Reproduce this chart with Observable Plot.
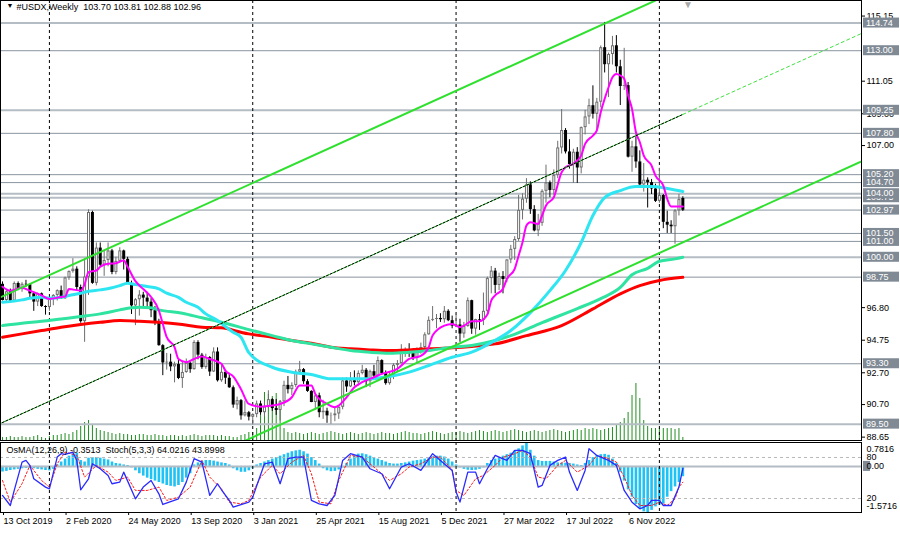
<!DOCTYPE html>
<html><head><meta charset="utf-8">
<script src="https://cdn.jsdelivr.net/npm/d3@7"></script>
<script src="https://cdn.jsdelivr.net/npm/@observablehq/plot@0.6"></script>
<style>
html,body{margin:0;padding:0;background:#fff;}
#chart{position:relative;width:900px;height:533px;overflow:hidden;background:#fff;}
#chart svg{position:absolute;left:0;}
</style></head><body><div id="chart"></div>
<script>
// ---------------- DATA ----------------
const startDate = "2019-10-13"; // first weekly bar (Sunday)
const titleText = "#USDX,Weekly\u00a0 103.70 103.81 102.88 102.96";
const indicatorText = "OsMA(12,26,9) -0.3513\u00a0 Stoch(5,3,3) 64.0216 43.8998";

const open = [
 98.30,97.28,97.83,97.24,98.35,98.00,98.30,98.27,97.70,97.18,97.70,96.90,
 96.84,97.36,97.60,97.90,97.39,98.70,99.10,99.25,98.10,95.95,98.75,102.82,98.36,100.58,99.50,99.80,100.40,99.04,99.74,100.40,99.87,98.34,96.94,97.33,97.62,97.43,97.18,96.64,95.96,94.44,93.35,93.40,93.10,93.25,92.37,92.75,93.33,92.93,94.64,93.84,93.06,93.69,92.78,94.04,92.23,92.76,92.39,91.79,90.70,90.98,90.02,90.22,
 89.94,90.10,90.77,90.22,90.58,91.04,90.48,90.36,90.90,91.94,91.67,91.93,92.77,92.93,92.17,91.56,90.86,91.28,90.22,90.31,90.02,90.03,90.14,90.56,92.22,91.84,92.23,92.11,92.69,92.89,92.17,92.80,92.52,93.50,92.68,92.05,92.58,93.20,93.31,94.04,94.08,93.96,93.64,94.12,94.32,95.12,96.03,96.09,96.15,96.07,96.60,96.01,
 95.67,95.74,95.17,95.64,97.27,95.48,96.08,96.04,96.60,98.66,99.13,98.23,98.79,98.60,99.83,100.50,101.12,102.95,103.66,104.56,103.00,101.66,102.14,104.15,104.68,104.20,105.14,106.88,107.98,106.63,105.84,106.61,105.62,108.16,108.83,109.54,109.00,109.76,113.19,112.12,112.76,113.31,111.99,110.75,110.80,106.30,106.95,106.00,104.55,104.85,104.70,104.30,
 103.52,103.89,102.20,102.02,101.92,102.92,103.70];
const high = [
 98.45,97.90,98.00,98.45,98.45,98.40,98.55,98.30,97.80,97.75,97.75,96.95,
 97.45,97.65,97.95,98.19,98.75,99.15,99.91,99.40,98.25,99.90,102.99,102.90,100.90,100.90,100.40,100.90,100.50,100.00,100.60,100.45,100.00,98.50,97.40,97.90,97.80,97.80,97.40,96.90,96.10,94.50,93.95,93.90,93.40,93.50,93.40,93.60,93.40,94.75,94.75,93.95,93.90,93.75,94.30,94.30,93.20,92.80,92.70,91.90,91.20,91.05,90.95,90.30,
 90.15,90.95,90.95,90.90,91.60,91.10,91.05,90.95,92.20,92.50,92.10,92.90,93.45,93.00,92.30,91.60,91.40,91.45,91.00,90.50,90.20,90.60,90.60,92.40,92.40,92.75,92.85,92.85,93.20,93.00,92.90,93.20,93.73,93.55,92.85,92.80,93.30,93.50,94.50,94.30,94.56,94.00,94.30,94.60,95.25,96.25,96.90,96.40,96.45,96.90,96.70,96.30,
 96.45,96.10,95.90,97.44,97.30,96.10,96.40,97.75,98.75,99.42,99.30,99.00,99.10,99.85,100.75,101.30,103.90,104.00,104.95,104.75,103.25,102.70,104.25,105.80,104.80,105.50,107.30,109.30,108.10,107.40,106.80,106.90,108.20,109.25,109.95,110.79,110.00,113.30,114.78,112.85,113.90,113.95,112.40,113.15,111.00,107.30,107.70,106.70,105.90,105.00,104.90,104.60,
 105.60,103.95,102.90,102.30,103.00,103.96,103.81];
const low = [
 97.25,97.20,97.10,97.20,97.90,97.80,98.10,97.40,96.60,96.90,96.85,96.36,
 96.60,96.95,97.25,97.35,97.35,98.55,99.00,97.90,95.85,94.65,97.60,98.30,98.20,99.40,98.80,99.40,98.90,98.90,99.70,99.20,98.30,96.40,95.70,96.30,96.90,96.80,96.20,95.70,94.40,92.55,92.90,92.80,92.10,92.30,91.75,92.70,92.70,92.90,93.55,92.95,92.95,92.50,92.75,92.15,92.13,92.00,91.75,90.50,90.40,89.75,89.95,89.70,
 89.45,89.90,90.05,89.95,90.50,90.30,90.05,89.70,90.60,91.40,91.30,91.80,92.60,92.00,91.50,90.85,90.40,89.90,89.80,89.55,89.50,89.65,89.80,90.40,91.50,91.80,91.90,91.90,92.60,91.80,91.80,92.40,92.45,92.60,91.95,91.95,92.30,92.80,93.30,93.70,93.70,93.50,93.30,93.90,93.90,95.10,95.95,95.50,95.90,95.85,95.95,95.50,
 95.60,94.65,94.90,95.60,95.15,95.10,95.40,95.70,96.50,97.70,97.70,97.90,97.70,98.40,99.60,99.80,101.00,102.35,103.40,102.70,101.60,101.30,101.95,103.40,103.75,103.90,104.95,106.50,106.50,105.55,104.65,104.65,105.25,107.70,108.35,108.70,107.90,109.40,111.60,110.05,112.10,111.60,109.55,110.50,106.25,105.35,105.60,104.40,104.10,103.10,103.95,103.45,
 103.40,101.80,101.50,101.50,100.82,102.60,102.88];
const close = [
 97.28,97.83,97.24,98.35,98.00,98.30,98.27,97.70,97.18,97.70,96.90,96.84,
 97.36,97.60,97.90,97.39,98.70,99.10,99.25,98.10,95.95,98.75,102.82,98.36,100.58,99.50,99.80,100.40,99.04,99.74,100.40,99.87,98.34,96.94,97.33,97.62,97.43,97.18,96.64,95.96,94.44,93.35,93.40,93.10,93.25,92.37,92.75,93.33,92.93,94.64,93.84,93.06,93.69,92.78,94.04,92.23,92.76,92.39,91.79,90.70,90.98,90.02,90.22,89.94,
 90.10,90.77,90.22,90.58,91.04,90.48,90.36,90.90,91.94,91.67,91.93,92.77,92.93,92.17,91.56,90.86,91.28,90.22,90.31,90.02,90.03,90.14,90.56,92.22,91.84,92.23,92.11,92.69,92.89,92.17,92.80,92.52,93.50,92.68,92.05,92.58,93.20,93.31,94.04,94.08,93.96,93.64,94.12,94.32,95.12,96.03,96.09,96.15,96.07,96.60,96.01,95.67,
 95.74,95.17,95.64,97.27,95.48,96.08,96.04,96.60,98.66,99.13,98.23,98.79,98.60,99.83,100.50,101.12,102.95,103.66,104.56,103.00,101.66,102.14,104.15,104.68,104.20,105.14,106.88,107.98,106.63,105.84,106.61,105.62,108.16,108.83,109.54,109.00,109.76,113.19,112.12,112.76,113.31,111.99,110.75,110.80,106.30,106.95,106.00,104.55,104.85,104.70,104.30,103.52,
 103.89,102.20,102.02,101.92,102.92,103.63,102.96];
const volume = [
 6,6,8,6,6,8,6,6,8,10,6,4,
 8,10,10,12,14,12,16,20,
 28,36,40,32,24,20,18,
 16,14,12,14,12,12,10,10,12,12,10,10,12,10,
 10,8,10,10,8,10,8,10,12,10,8,10,10,10,8,10,8,8,6,6,
 10,12,16,16,24,50,96,92,88,94,80,24,16,
 14,16,14,12,14,16,14,12,14,16,18,16,14,12,14,16,14,12,14,16,14,12,14,16,14,14,12,14,16,18,16,14,14,12,14,16,18,16,14,12,14,16,
 16,18,16,14,16,18,20,18,16,18,20,18,16,18,20,22,20,18,16,18,20,18,16,18,20,22,20,18,16,18,20,22,20,24,
 22,24,22,20,22,24,26,30,36,44,56,90,114,84,40,28,24,
 24,24,24,24,24,22,24,6];
const osma = [
 -0.19,-0.17,-0.14,-0.12,-0.1,-0.08,-0.07,-0.07,-0.08,-0.1,-0.12,-0.14,-0.15,-0.1,
 0.05,0.15,0.25,0.35,0.43,0.45,0.2,0.15,0.28,0.3,0.3,0.28,0.25,0.22,0.15,0.1,0.08,0.05,0.03,
 -0.05,-0.15,-0.25,-0.33,-0.4,-0.45,-0.5,-0.55,-0.6,-0.65,-0.68,-0.7,-0.65,-0.55,-0.4,-0.25,
 0.05,0.12,0.18,0.2,0.2,0.18,0.15,0.12,0.1,0.05,
 -0.08,-0.15,-0.2,-0.2,-0.15,-0.08,
 0.05,0.1,0.15,0.2,0.25,0.3,0.35,0.4,0.45,0.5,0.53,0.55,0.5,0.42,0.3,0.2,0.08,
 -0.08,-0.15,-0.18,-0.17,-0.12,-0.05,
 0.1,0.25,0.35,0.42,0.43,0.4,0.35,0.3,0.25,0.2,0.15,0.1,0.08,0.08,0.1,0.12,0.15,0.18,0.2,0.22,0.25,0.3,0.33,0.35,0.35,0.32,0.25,0.15,0.05,
 -0.05,-0.1,-0.13,-0.14,-0.13,-0.1,-0.05,
 0.1,0.2,0.25,0.3,0.35,0.4,0.45,0.52,0.6,0.7,0.78,0.55,0.35,0.2,0.17,0.17,0.17,0.15,0.12,0.11,0.11,0.1,0.08,0.05,0.03,
 0.1,0.2,0.3,0.37,0.4,0.41,0.38,0.25,0.1,
 -0.2,-0.5,-0.8,-1.05,-1.3,-1.45,-1.55,-1.5716,-1.5,-1.38,-1.32,-1.28,-1.05,-0.86,-0.7,-0.55,-0.3513];

// indicator readings: [bar index, value]
const stochMain = [[0,24.5],[2,9.8],[3,31.8],[5,73.3],[6,75.7],[7,68.4],[8,48.9],[11,36.7],[12,34.2],[14,80.6],[15,85.5],[16,84.5],[18,87.9],[19,75.7],[20,32.8],[22,48.9],[23,70.8],[25,63.5],[27,53.8],[28,41.6],[30,44],[31,58.6],[34,19.6],[36,36.7],[38,46.4],[40,26.9],[41,11.3],[45,19.6],[47,44],[49,78.2],[51,73.3],[53,24.5],[55,41.6],[56,32.8],[58,17.2],[59,7.4],[63,14.7],[64,22],[67,70.8],[69,73.3],[71,41.6],[73,78.2],[75,80.6],[77,80.6],[79,17.2],[81,12.3],[83,9.8],[85,24.5],[87,75.7],[89,85.5],[92,80.6],[94,63.5],[97,56.2],[99,34.2],[102,66],[104,70.8],[107,61.1],[110,85.5],[112,75.7],[115,61.1],[116,30],[117,14.7],[119,58.6],[121,58.6],[122,41.6],[124,63.5],[126,83],[127,80.6],[129,75.7],[131,90.4],[133,90.4],[135,85.5],[137,36.7],[138,39.1],[140,68.4],[142,75.7],[144,80.6],[145,58.6],[147,31.8],[149,61.1],[150,92.8],[152,83],[153,80.6],[155,75.7],[157,68.4],[159,31.8],[161,14.7],[163,5],[165,9.8],[166,17.2],[168,17.2],[169,9.8],[171,9.8],[173,36.7],[174,64.02]];
const stochSignal = [[0,46.4],[2,14.7],[5,41.6],[7,68.4],[10,46.4],[12,36.7],[14,70.8],[16,87.9],[19,83],[21,51.3],[24,68.4],[27,58.6],[29,46.4],[32,51.3],[34,31.8],[37,31.8],[40,36.7],[42,17.2],[45,22],[48,36.7],[51,75.7],[53,51.3],[56,34.2],[58,14.7],[61,12.3],[63,17.2],[66,51.3],[69,68.4],[71,56.2],[74,73.3],[77,83],[79,56.2],[81,14.7],[84,12.3],[86,46.4],[89,83],[92,80.6],[94,70.8],[97,56.2],[99,46.4],[102,56.2],[104,66],[107,70.8],[110,80.6],[112,80.6],[115,62],[116,31.8],[118,24.5],[121,48.9],[123,53.8],[126,68.4],[128,80.6],[131,85.5],[133,90.4],[135,80.6],[137,51.3],[139,48.9],[142,68.4],[144,75.7],[147,58.6],[150,68.4],[152,83],[155,78.2],[157,73.3],[159,51.3],[161,24.5],[163,9.8],[166,9.8],[168,14.7],[170,9.8],[172,19.6],[173,36.7],[174,43.9]];

// moving averages: [bar index, price]
const maMagenta = [[0,98.15],[2,97.9],[5,98.08],[7,97.9],[10,97.6],[12,97.38],[15,97.5],[16,97.53],[17,98.0],[20,97.9],[21,98.3],[22,99.06],[24,99.17],[25,99.4],[27,99.6],[29,99.63],[31,99.8],[32,99.4],[34,98.5],[36,98.0],[38,97.5],[40,96.65],[41,95.8],[42,94.97],[44,94.34],[45,93.6],[47,93.4],[49,93.6],[51,93.75],[53,93.6],[56,93.3],[57,92.87],[59,92.5],[61,91.7],[63,90.77],[66,90.6],[69,90.67],[71,90.77],[74,91.19],[76,91.93],[79,91.93],[80,91.4],[83,90.77],[85,90.56],[86,90.67],[88,91.19],[90,91.82],[92,92.14],[95,92.45],[97,92.66],[101,92.98],[104,93.6],[107,93.8],[109,94.34],[110,95.08],[113,95.7],[115,95.8],[117,95.6],[118,95.7],[120,95.97],[122,95.98],[124,96.4],[125,97.28],[126,97.6],[128,98.02],[129,98.64],[131,99.27],[132,100.1],[133,100.95],[134,102.0],[135,102.2],[137,102.1],[138,102.63],[139,103.26],[141,103.78],[143,105.35],[144,105.67],[146,105.88],[147,106.09],[148,106.4],[149,107.14],[151,107.66],[152,107.98],[153,109.13],[154,109.97],[155,110.7],[156,111.33],[157,111.54],[158,111.44],[159,111.23],[160,110.18],[161,109.34],[162,107.87],[163,107.24],[164,106.4],[166,105.77],[167,105.14],[169,104.51],[170,103.68],[171,103.19],[174,103.19]];
const maCyan = [[0,97.17],[2,97.21],[5,97.32],[7,97.42],[10,97.48],[12,97.42],[15,97.48],[17,97.59],[20,97.74],[22,97.86],[25,97.95],[28,98.08],[30,98.22],[32,98.37],[34,98.28],[37,98.16],[40,98.01],[42,97.74],[45,97.48],[47,97.17],[50,96.85],[52,96.44],[55,96.02],[57,95.64],[59,95.28],[61,94.97],[63,94.0],[69,93.08],[74,92.77],[79,92.62],[84,92.35],[89,92.35],[94,92.35],[99,92.5],[104,92.77],[109,93.19],[115,93.71],[120,94.03],[125,94.63],[130,95.39],[135,96.52],[140,97.9],[144,99.17],[148,100.93],[151,102.63],[154,103.76],[158,104.2],[162,104.45],[166,104.45],[170,104.33],[174,104.14]];
const maGreen = [[0,95.70],[5,95.85],[10,95.97],[15,96.12],[20,96.27],[25,96.44],[30,96.69],[33,96.82],[35,96.86],[38,96.82],[40,96.69],[46,96.48],[51,96.19],[56,95.91],[63,95.45],[69,95.07],[74,94.76],[79,94.55],[84,94.34],[89,94.13],[94,94.02],[99,93.96],[104,94.02],[109,94.13],[115,94.34],[120,94.45],[130,95.07],[138,95.89],[147,96.77],[153,97.4],[158,98.1],[161,98.9],[165,99.3],[168,99.75],[172,99.9],[174,100.0]];
const maRed = [[0,94.97],[5,95.18],[10,95.39],[15,95.6],[20,95.77],[25,95.91],[30,96.02],[35,95.97],[40,95.91],[46,95.77],[51,95.6],[56,95.56],[61,95.28],[63,95.18],[69,94.97],[74,94.76],[79,94.59],[84,94.34],[89,94.24],[94,94.17],[99,94.13],[104,94.17],[109,94.24],[115,94.3],[120,94.39],[126,94.55],[134,95.07],[143,95.7],[151,96.75],[158,97.7],[163,98.22],[168,98.54],[174,98.74]];

// trend lines: [bar index, price] end points
const channelUpper = [[-1,97.43],[174,116.94]];
const channelMiddle = [[-1,89.49],[174,108.99]];
const channelMiddleExt = [[174,108.99],[221,114.23]];
const channelLower = [[62,88.45],[221,106.18]];

const levels = [103.75,101.00,105.20,114.74,113.00,109.25,107.80,104.70,104.00,102.97,101.50,100.00,98.75,93.30,89.50];
const lightLevels = [114.74,109.25,104.00,103.75,100.00,89.50];
const priceTicks = [115.15,111.05,109.00,107.00,96.80,94.75,92.70,90.70,88.65];
const xTickLabels = ["13 Oct 2019","2 Feb 2020","24 May 2020","13 Sep 2020","3 Jan 2021","25 Apr 2021","15 Aug 2021","5 Dec 2021","27 Mar 2022","17 Jul 2022","6 Nov 2022"];
const osmaRange = [-1.5716, 0.7816];
const stochLevels = [80, 20];

// ---------------- BUILD ----------------
const FONT = "'Liberation Sans', Arial, 'DejaVu Sans', sans-serif";
const WEEK = 7 * 864e5;
const t0 = Date.parse(startDate + "T00:00:00Z");
const dateAt = i => new Date(t0 + i * WEEK);
const bars = close.map((c, i) => ({
  date: dateAt(i), open: open[i], high: high[i], low: low[i], close: c,
  up: c >= open[i], volume: volume[i], osma: osma[i]
}));
const xDomain = [dateAt(-0.51), dateAt(219.69)];
const pts = arr => arr.map(([i, v]) => ({date: dateAt(i), value: v}));
const sepDates = bars.filter((d, i) => i > 0 && d.date.getUTCFullYear() !== bars[i - 1].date.getUTCFullYear()).map(d => d.date);
const parse = d3.utcParse("%d %b %Y");
const xTicks = xTickLabels.map(parse);
const labelMap = new Map(xTickLabels.map((s, i) => [+xTicks[i], s]));

const NS = "http://www.w3.org/2000/svg";
function boxLabels(values, opt) {
  return (index, scales, vals, dim, context) => {
    const doc = (context && context.document) || document;
    const g = doc.createElementNS(NS, "g");
    g.setAttribute("text-anchor", "start");
    const x0 = dim.width - dim.marginRight + 1;
    for (const v of values) {
      const y = scales.y(v);
      const r = doc.createElementNS(NS, "rect");
      r.setAttribute("x", x0 + 1); r.setAttribute("y", y - opt.h / 2);
      r.setAttribute("width", opt.w); r.setAttribute("height", opt.h);
      r.setAttribute("fill", opt.fill);
      g.appendChild(r);
      if (opt.text !== false) {
        const t = doc.createElementNS(NS, "text");
        t.setAttribute("x", x0 + 4); t.setAttribute("y", y); t.setAttribute("dy", "0.35em");
        t.setAttribute("text-anchor", "start");
        t.setAttribute("fill", opt.color); t.setAttribute("font-size", "9");
        t.setAttribute("font-family", FONT);
        t.textContent = v.toFixed(2);
        g.appendChild(t);
      }
    }
    return g;
  };
}

const common = {width: 900, marginLeft: 0, marginRight: 39};
const chart = document.getElementById("chart");

// volume layer (behind price)
const volPlot = Plot.plot({
  ...common, height: 441, marginTop: 0, marginBottom: 1,
  x: {type: "utc", domain: xDomain, axis: null},
  y: {domain: [0, 880], axis: null},
  style: {background: "#fff"},
  marks: [Plot.ruleX(bars, {x: "date", y1: 0, y2: "volume", stroke: "#1f8f1f", strokeWidth: 1})]
});
volPlot.style.top = "0px";
chart.appendChild(volPlot);

const lineOpts = {x: "date", y: "value", curve: "monotone-x"};
const mainPlot = Plot.plot({
  ...common, height: 441, marginTop: 0, marginBottom: 1,
  x: {type: "utc", domain: xDomain, axis: null},
  y: {domain: [88.47, 116.16]},
  style: {background: "transparent", fontFamily: FONT, fontSize: "9px", color: "#000"},
  marks: [
    Plot.ruleY(levels.filter(v => !lightLevels.includes(v)), {stroke: "#8994a0", strokeWidth: 1}),
    Plot.ruleY(levels.filter(v => lightLevels.includes(v)), {stroke: "#b4bcc4", strokeWidth: 2}),
    Plot.ruleX(sepDates, {stroke: "#000", strokeDasharray: "3,3"}),
    Plot.ruleX(bars, {x: "date", y1: "low", y2: "high", stroke: d => d.up ? "#6e6e6e" : "#000"}),
    Plot.ruleX(bars, {x: "date", y1: "close", y2: "open", stroke: d => d.up ? "#6e6e6e" : "#000", strokeWidth: 3}),
    Plot.ruleX(bars.filter(d => d.up && d.close - d.open > 0.15), {x: "date", y1: "close", y2: "open", stroke: "#fff", strokeWidth: 1, insetTop: 1, insetBottom: 1}),
    Plot.line(pts(maRed), {...lineOpts, stroke: "#ff0000", strokeWidth: 3}),
    Plot.line(pts(maGreen), {...lineOpts, stroke: "#2fe3a0", strokeWidth: 3}),
    Plot.line(pts(maCyan), {...lineOpts, stroke: "#2ee6f2", strokeWidth: 3}),
    Plot.line(pts(maMagenta), {...lineOpts, stroke: "#ff00ff", strokeWidth: 2}),
    Plot.line(pts(channelUpper), {x: "date", y: "value", stroke: "#2fe02f", strokeWidth: 2, clip: true}),
    Plot.line(pts(channelLower), {x: "date", y: "value", stroke: "#2fe02f", strokeWidth: 2, clip: true}),
    Plot.line(pts(channelMiddle), {x: "date", y: "value", stroke: "#3fe03f", strokeWidth: 1, clip: true}),
    Plot.line(pts(channelMiddle), {x: "date", y: "value", stroke: "#000", strokeWidth: 1, strokeDasharray: "2,2", clip: true}),
    Plot.line(pts(channelMiddleExt), {x: "date", y: "value", stroke: "#3fe03f", strokeWidth: 1, strokeDasharray: "3,3", clip: true}),
    Plot.axisY({anchor: "right", ticks: priceTicks, tickFormat: d => d.toFixed(2), tickSize: 3, tickPadding: 2, label: null, fontSize: 9, dy: -0.5}),
    Plot.frame({stroke: "#000"}),
    boxLabels(levels, {w: 36, h: 10, fill: "#7f8a95", color: "#fff"}),
    Plot.text(["\u25BC"], {frameAnchor: "top-left", dx: 6, dy: 3, lineAnchor: "top", fontSize: 7, fill: "#000"}),
    Plot.text([titleText], {frameAnchor: "top-left", dx: 16, dy: 3, lineAnchor: "top", textAnchor: "start", fontSize: 9, fill: "#000"}),
    Plot.text(["\u25BC"], {x: () => bars[bars.length - 1].date, frameAnchor: "top", dx: 5, dy: 0, lineAnchor: "top", fontSize: 10, fill: "#a8a8a8"})
  ]
});
mainPlot.style.top = "0px";
chart.appendChild(mainPlot);

// OsMA layer
const osPlot = Plot.plot({
  ...common, height: 92, marginTop: 1, marginBottom: 21,
  x: {type: "utc", domain: xDomain, axis: null},
  y: {domain: osmaRange, range: [71, 2], axis: null},
  style: {background: "#fff", fontFamily: FONT, fontSize: "9px", color: "#000"},
  marks: [
    Plot.ruleX(bars, {x: "date", y1: 0, y2: "osma", stroke: "#1ec2f4", strokeWidth: 2.6}),
    Plot.ruleY([0], {stroke: "#b4bcc4", strokeWidth: 2}),
    boxLabels([0], {w: 7, h: 10, fill: "#7f8a95", color: "#000", text: false}),
    Plot.text([0], {y: d => d, text: d => d.toFixed(2), frameAnchor: "right", dx: 5, textAnchor: "start", fill: "#000"}),
    Plot.text([osmaRange[1]], {y: d => d, text: d => String(d), frameAnchor: "right", dx: 5, dy: 6, textAnchor: "start", fill: "#000"}),
    Plot.text([osmaRange[0]], {y: d => d, text: d => String(d), frameAnchor: "right", dx: 5, dy: -6, textAnchor: "start", fill: "#000"})
  ]
});
osPlot.style.top = "441px";
chart.appendChild(osPlot);

// Stochastic layer
const stPlot = Plot.plot({
  ...common, height: 92, marginTop: 1, marginBottom: 21,
  x: {type: "utc", domain: xDomain},
  y: {domain: [0, 100], range: [70.7, 2.3]},
  style: {background: "transparent", fontFamily: FONT, fontSize: "9px", color: "#000"},
  marks: [
    Plot.ruleY(stochLevels, {stroke: "#b8b8b8", strokeDasharray: "3,3"}),
    Plot.ruleX(sepDates, {stroke: "#000", strokeDasharray: "3,3"}),
    Plot.line(pts(stochSignal), {x: "date", y: "value", stroke: "#ff1a1a", strokeWidth: 1, strokeDasharray: "2,2"}),
    Plot.line(pts(stochMain), {x: "date", y: "value", stroke: "#2a2aff", strokeWidth: 1.3}),
    Plot.axisY({anchor: "right", ticks: stochLevels, tickSize: 0, tickPadding: 5, label: null, fontSize: 9}),
    Plot.axisX({anchor: "bottom", ticks: xTicks, tickFormat: d => labelMap.get(+d), textAnchor: "start", tickSize: 3, tickPadding: 2, dx: 1, label: null, fontSize: 9}),
    Plot.frame({stroke: "#000"}),
    Plot.text([indicatorText], {frameAnchor: "top-left", dx: 6, dy: 4, lineAnchor: "top", textAnchor: "start", fontSize: 9, fill: "#000"})
  ]
});
stPlot.style.top = "441px";
chart.appendChild(stPlot);
</script>
</body></html>
